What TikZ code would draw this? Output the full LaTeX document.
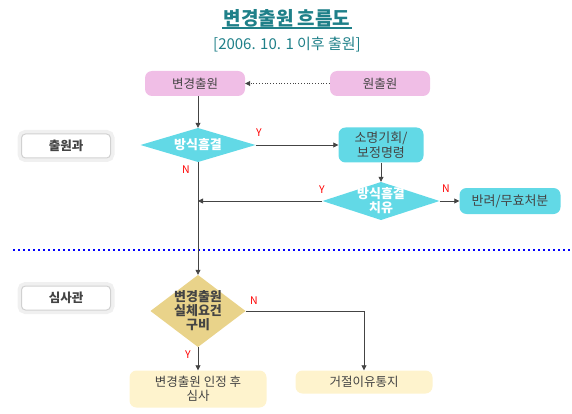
\documentclass[tikz,border=0pt]{standalone}
\usepackage{fontspec}
\setmainfont{Noto Sans CJK KR}
\usetikzlibrary{arrows.meta}
\definecolor{pinkbox}{HTML}{F0BEE6}
\definecolor{cyanbox}{HTML}{62D9E6}
\definecolor{goldbox}{HTML}{E9D38A}
\definecolor{creambox}{HTML}{FEF3CD}
\definecolor{darktext}{HTML}{444444}
\definecolor{titlecol}{HTML}{1F8089}
\definecolor{dotblue}{HTML}{0000FF}

\begin{document}
\begin{tikzpicture}[x=1pt, y=-1pt, font=\fontsize{12.5}{14}\selectfont,
	pill/.style={rounded corners=7pt, fill=#1, text=darktext, inner sep=0pt, align=center},
	dia/.style={inner sep=0pt, align=center, path picture={\fill[#1] (path picture bounding box.north) -- (path picture bounding box.east) -- (path picture bounding box.south) -- (path picture bounding box.west) -- cycle;}},
	dept/.style={rounded corners=4pt, draw=black!18, fill=white, line width=1pt, preaction={draw=black!6, line width=8pt}, minimum width=89, minimum height=24, font=\bfseries\fontsize{12.5}{14}\selectfont, text=darktext},
	yn/.style={text=red, inner sep=0pt, font=\fontsize{10.5}{11}\selectfont},
	arr/.style={-{Triangle[length=5pt,width=5pt]}, darktext, line width=0.8pt}]
			\useasboundingbox (0,0) rectangle (572,414);
			\node[text=titlecol, inner sep=1pt, font=\bfseries\fontsize{19}{21}\selectfont] (title) at (287,18) {변경출원 흐름도};
			\draw[titlecol, line width=1.5pt] (title.south west) -- (title.south east);
			\node[text=titlecol, font=\fontsize{15}{17}\selectfont] (sub) at (287,45) {[2006. 10. 1 이후 출원]};
			\node[pill=pinkbox, minimum width=100, minimum height=25] (chg) at (195,83.5) {변경출원};
			\node[pill=pinkbox, minimum width=100, minimum height=25] (orig) at (380,83.5) {원출원};
			\node[dept] (dep1) at (66,146) {출원과};
			\node[dia=cyanbox, minimum width=115, minimum height=34, text=white, font=\bfseries\fontsize{13}{14}\selectfont] (chk1) at (198,145) {방식흠결};
			\node[pill=cyanbox, minimum width=85, minimum height=35, font=\fontsize{13}{15}\selectfont] (req) at (381,145) {소명기회/\\보정명령};
			\node[dia=cyanbox, minimum width=117, minimum height=38, text=white, font=\bfseries\fontsize{13}{14}\selectfont] (chk2) at (381,201) {방식흠결\\치유};
			\node[pill=cyanbox, minimum width=101, minimum height=26, font=\fontsize{13}{15}\selectfont] (rej) at (510,201) {반려/무효처분};
			\draw[dotblue, line width=2pt, dash pattern=on 2pt off 3pt] (13,250) -- (572,250);
			\node[dept] (dep2) at (66,298) {심사관};
			\node[dia=goldbox, minimum width=95, minimum height=72, text=darktext, font=\bfseries\fontsize{13}{14}\selectfont] (chk3) at (198,311) {변경출원\\실체요건\\구비};
			\node[pill=creambox, minimum width=137, minimum height=37] (acc) at (198,389) {변경출원 인정 후\\심사};
			\node[pill=creambox, minimum width=137, minimum height=23] (notice) at (364,382) {거절이유통지};
			\draw[arr, dotted] (orig.west) -- (chg.east);
			\draw[arr] (chg.south -| chk1.north) -- (chk1.north);
			\draw[arr] (chk1.east) -- (req.west);
			\draw[arr] (req.south) -- (chk2.north);
			\draw[arr] (chk2.west) -- (chk2.west -| chk1.south);
			\draw[arr] (chk2.east) -- (rej.west);
			\draw[arr] (chk1.south) -- (chk3.north);
			\draw[arr] (chk3.east) -| (notice.north);
			\draw[arr] (chk3.south) -- (acc.north);
			\node[yn] (y1) at (259,133) {Y};
			\node[yn] (n1) at (186,170) {N};
			\node[yn] (y2) at (322,190) {Y};
			\node[yn] (n2) at (446,189) {N};
			\node[yn] (n3) at (254,301) {N};
			\node[yn] (y3) at (188,355) {Y};
		\end{tikzpicture}
\end{document}
